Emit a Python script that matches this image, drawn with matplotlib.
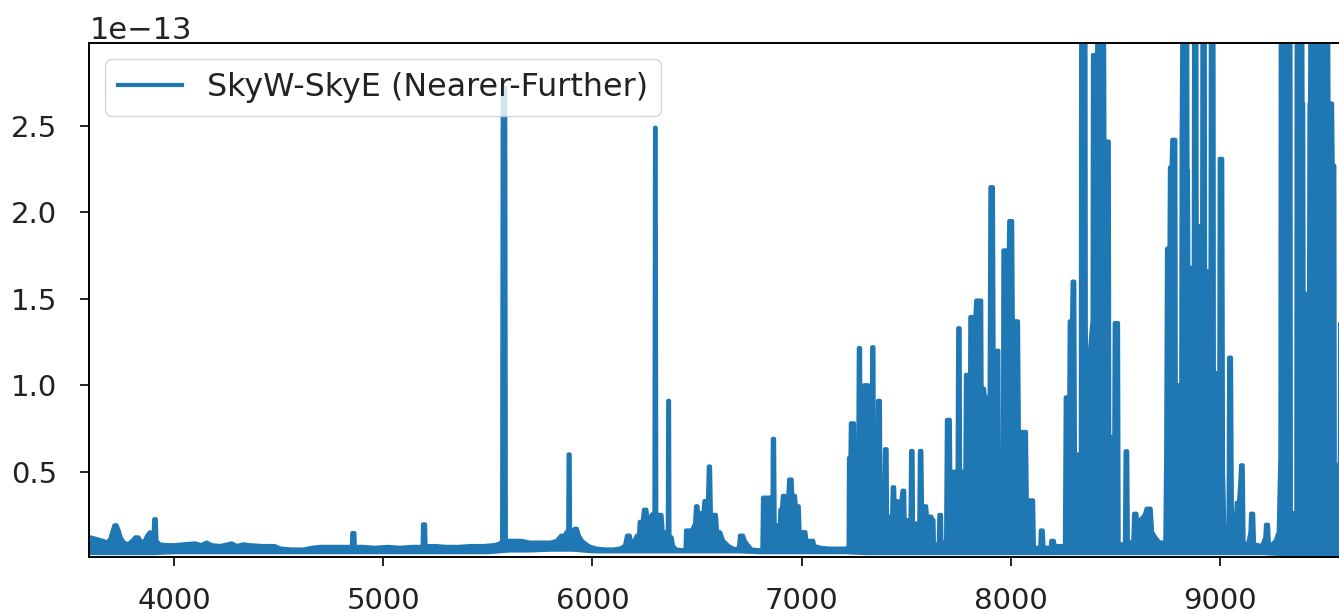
import numpy as np
import matplotlib
matplotlib.use("Agg")
import matplotlib.pyplot as plt
from matplotlib.ticker import MultipleLocator

SCALE = 1e-13
COLOR = "#1f77b4"

# Sky-difference spectrum, flux in units of 1e-13, wavelength in Angstrom.
blue_wave = [3595, 3600, 3630, 3660, 3680, 3695, 3705, 3715, 3725, 3735, 3745, 3760, 3780,
             3800, 3815, 3830, 3845, 3860, 3872, 3885, 3896, 3902, 3905, 3913, 3916, 3930,
             3960, 4000, 4050, 4100, 4130, 4156, 4180, 4220, 4276, 4300, 4331, 4360, 4420,
             4480, 4510, 4560, 4620, 4660, 4700, 4760, 4820, 4850, 4852, 4862, 4864, 4900,
             4960, 5020, 5080, 5140, 5188, 5190, 5200, 5202, 5250, 5300, 5360, 5420, 5480,
             5530, 5560, 5568, 5571, 5583, 5586]
blue_flux = [0.12, 0.12, 0.11, 0.10, 0.09, 0.11, 0.15, 0.19, 0.19, 0.16, 0.12, 0.09, 0.08,
             0.10, 0.12, 0.12, 0.09, 0.10, 0.13, 0.15, 0.12, 0.12, 0.225, 0.225, 0.10, 0.08,
             0.075, 0.075, 0.08, 0.085, 0.075, 0.09, 0.075, 0.07, 0.085, 0.07, 0.08, 0.075, 0.07,
             0.07, 0.055, 0.05, 0.05, 0.06, 0.065, 0.065, 0.065, 0.065, 0.145, 0.145, 0.065, 0.065,
             0.06, 0.065, 0.06, 0.065, 0.065, 0.195, 0.195, 0.07, 0.07, 0.065, 0.065, 0.07, 0.07,
             0.075, 0.085, 0.10, 2.72, 2.72, 0.10]

mid_wave = [5620, 5660, 5700, 5750, 5800, 5830, 5850, 5868, 5875, 5884, 5886, 5891, 5893,
            5905, 5915, 5925, 5935, 5950, 5970, 5990, 6020, 6060, 6100, 6130, 6155, 6165,
            6178, 6185, 6200, 6212, 6222, 6226, 6240, 6246, 6258, 6262, 6275, 6282, 6296,
            6299, 6302, 6305, 6330, 6336, 6345, 6360, 6362, 6366, 6368, 6378, 6385, 6400,
            6430, 6445, 6447, 6476, 6490, 6495, 6502, 6508, 6516, 6518, 6530, 6535, 6552,
            6556, 6562, 6566, 6590, 6596, 6610, 6625, 6650, 6680, 6700, 6705, 6720, 6728,
            6740, 6760, 6800, 6812, 6815, 6855, 6860, 6862, 6868, 6871, 6895, 6898, 6905,
            6910, 6936, 6940, 6952, 6955, 6968, 6972, 6986, 6990, 7018, 7022, 7055, 7060,
            7090, 7130, 7170, 7210, 7220]
mid_flux = [0.10, 0.10, 0.09, 0.09, 0.09, 0.10, 0.13, 0.13, 0.15, 0.15, 0.60, 0.60, 0.15,
            0.15, 0.17, 0.17, 0.13, 0.10, 0.08, 0.065, 0.055, 0.05, 0.05, 0.055, 0.07, 0.13,
            0.13, 0.09, 0.10, 0.13, 0.13, 0.21, 0.21, 0.28, 0.28, 0.22, 0.22, 0.25, 0.26,
            2.49, 2.49, 0.25, 0.25, 0.15, 0.15, 0.12, 0.91, 0.91, 0.12, 0.12, 0.07, 0.05,
            0.045, 0.05, 0.16, 0.16, 0.20, 0.30, 0.30, 0.20, 0.20, 0.26, 0.26, 0.33, 0.33,
            0.53, 0.53, 0.25, 0.25, 0.15, 0.15, 0.10, 0.07, 0.05, 0.06, 0.13, 0.13, 0.10,
            0.08, 0.05, 0.045, 0.05, 0.35, 0.35, 0.20, 0.69, 0.69, 0.19, 0.19, 0.28, 0.28,
            0.36, 0.36, 0.455, 0.455, 0.36, 0.36, 0.30, 0.30, 0.15, 0.15, 0.10, 0.10, 0.07,
            0.06, 0.055, 0.055, 0.055, 0.06]

# OH forest: peaks, dips between neighbouring lines, and the gaps in between bands
red_wave = [7224, 7226, 7233, 7235, 7250, 7252, 7270, 7273, 7279, 7281, 7294, 7297, 7318,
            7320, 7334, 7337, 7343, 7345, 7362, 7365, 7374, 7376, 7394, 7398, 7406, 7408,
            7432, 7435, 7442, 7445, 7450, 7458, 7468, 7482, 7490, 7492, 7520, 7523, 7530,
            7532, 7562, 7565, 7572, 7575, 7595, 7600, 7610, 7620, 7624, 7630, 7632, 7655,
            7658, 7666, 7668, 7690, 7694, 7708, 7710, 7745, 7748, 7755, 7757, 7782, 7785,
            7800, 7804, 7806, 7830, 7834, 7858, 7860, 7872, 7875, 7898, 7902, 7914, 7918,
            7930, 7934, 7940, 7942, 7962, 7964, 7990, 7992, 8006, 8009, 8034, 8038, 8072,
            8076, 8106, 8110, 8140, 8143, 8152, 8156, 8190, 8193, 8205, 8210, 8258, 8262,
            8279, 8281, 8292, 8295, 8303, 8306, 8334, 8336, 8356, 8358, 8360, 8362, 8388,
            8390, 8392, 8394, 8412, 8414, 8444, 8447, 8468, 8470, 8494, 8496, 8512, 8515,
            8545, 8548, 8556, 8559, 8585, 8589, 8600, 8604, 8612, 8618, 8640, 8648, 8668,
            8675, 8690, 8710, 8738, 8742, 8746, 8758, 8760, 8768, 8771, 8786, 8788, 8814,
            8816, 8822, 8842, 8844, 8846, 8848, 8874, 8876, 8886, 8888, 8914, 8916, 8926,
            8928, 8954, 8956, 8968, 8970, 8996, 8998, 9010, 9014, 9022, 9040, 9043, 9052,
            9056, 9068, 9076, 9079, 9090, 9097, 9100, 9108, 9112, 9122, 9130, 9145, 9148,
            9158, 9162, 9200, 9216, 9219, 9229, 9233, 9250, 9265, 9280, 9288, 9290, 9336,
            9338, 9364, 9366, 9392, 9394, 9397, 9399, 9425, 9427, 9430, 9432, 9515, 9518,
            9535, 9538, 9546, 9548, 9572, 9574, 9580, 9584, 9600, 9610, 9700]
red_flux = [0.06, 0.58, 0.58, 0.78, 0.78, 0.50, 0.50, 1.215, 1.215, 0.53, 0.53, 1.00, 1.00,
            0.60, 0.60, 1.22, 1.22, 0.45, 0.45, 0.91, 0.91, 0.33, 0.33, 0.63, 0.63, 0.24,
            0.24, 0.41, 0.41, 0.25, 0.33, 0.33, 0.25, 0.39, 0.39, 0.22, 0.22, 0.62, 0.62,
            0.20, 0.20, 0.62, 0.62, 0.30, 0.30, 0.22, 0.24, 0.24, 0.22, 0.22, 0.08, 0.08,
            0.25, 0.25, 0.09, 0.09, 0.80, 0.80, 0.50, 0.50, 1.33, 1.33, 0.50, 0.50, 1.06,
            1.06, 0.80, 1.395, 1.395, 1.49, 1.49, 0.98, 0.98, 0.93, 0.93, 2.146, 2.146, 0.95,
            0.95, 1.20, 1.20, 0.60, 0.60, 1.78, 1.78, 1.95, 1.95, 1.37, 1.37, 0.73, 0.73,
            0.334, 0.334, 0.06, 0.06, 0.16, 0.16, 0.06, 0.06, 0.10, 0.10, 0.07, 0.07, 0.93,
            0.93, 1.37, 1.37, 1.60, 1.60, 0.60, 0.60, 3.60, 3.60, 1.35, 0.96, 0.96, 1.35,
            1.35, 2.91, 2.91, 2.91, 3.60, 3.60, 2.41, 2.41, 0.70, 0.70, 1.36, 1.36, 0.08,
            0.08, 0.618, 0.618, 0.08, 0.10, 0.257, 0.257, 0.20, 0.22, 0.22, 0.25, 0.286, 0.286,
            0.15, 0.12, 0.09, 0.09, 0.60, 1.79, 1.79, 2.26, 2.26, 2.42, 2.42, 1.00, 1.00,
            2.42, 3.60, 3.60, 2.24, 2.24, 1.68, 1.68, 3.60, 3.60, 1.92, 1.92, 3.60, 3.60,
            1.66, 1.66, 3.60, 3.60, 1.07, 1.07, 2.31, 2.31, 0.50, 0.08, 0.08, 1.16, 1.16,
            0.30, 0.08, 0.08, 0.32, 0.32, 0.45, 0.537, 0.537, 0.10, 0.06, 0.06, 0.15, 0.257,
            0.257, 0.08, 0.07, 0.12, 0.193, 0.193, 0.08, 0.08, 0.10, 0.15, 0.60, 3.60, 3.60,
            0.26, 0.26, 3.60, 3.60, 2.63, 2.63, 1.53, 1.53, 2.63, 2.63, 3.60, 3.60, 2.63,
            2.63, 2.27, 2.27, 0.54, 0.54, 2.27, 2.27, 2.63, 2.63, 3.60, 3.60]

# Level below which every pixel of the difference spectrum is covered
floor_level = 0.04

# Pixel-to-pixel noise envelope of the continuum
noise_wave = [3595, 3700, 3800, 3900, 4000, 4100, 4200, 4300, 4400, 4500, 4600, 4700, 4800,
              4900, 5000, 5100, 5200, 5300, 5400, 5500, 5600, 5700, 5800, 5900, 6000, 6100,
              6200, 6300, 6400, 6500, 6600, 6700, 6800, 6900, 7000, 7100, 7200, 7300, 7400,
              7500, 7600, 7700, 7800, 7900, 8000, 8100, 8200, 8300, 8400, 8500, 8600, 8700,
              8800, 8900, 9000, 9100, 9200, 9280, 9300, 9400, 9500, 9600, 9700]
noise_lo = [0.02, 0.02, 0.02, 0.02, 0.025, 0.025, 0.025, 0.025, 0.025, 0.025, 0.025, 0.025,
            0.025, 0.025, 0.025, 0.025, 0.025, 0.025, 0.025, 0.025, 0.035, 0.035, 0.04, 0.04,
            0.03, 0.03, 0.03, 0.03, 0.03, 0.03, 0.03, 0.03, 0.025, 0.025, 0.025, 0.025, 0.025,
            0.02, 0.02, 0.02, 0.02, 0.02, 0.02, 0.02, 0.02, 0.02, 0.02, 0.02, 0.02, 0.02,
            0.02, 0.02, 0.02, 0.02, 0.02, 0.02, 0.02, 0.015, 0.0, 0.0, 0.0, 0.0, 0.0]
noise_hi = [0.10, 0.08, 0.08, 0.07, 0.065, 0.065, 0.065, 0.065, 0.065, 0.05, 0.045, 0.055,
            0.055, 0.055, 0.055, 0.055, 0.055, 0.055, 0.055, 0.055, 0.08, 0.08, 0.08, 0.08,
            0.045, 0.045, 0.06, 0.06, 0.05, 0.05, 0.05, 0.05, 0.045, 0.05, 0.05, 0.045, 0.045,
            0.05, 0.05, 0.05, 0.05, 0.05, 0.05, 0.05, 0.05, 0.05, 0.05, 0.05, 0.05, 0.05,
            0.05, 0.05, 0.05, 0.05, 0.05, 0.05, 0.05, 0.05, 0.05, 0.05, 0.05, 0.05, 0.05]

wave = np.array(blue_wave + mid_wave + red_wave, dtype=float)
flux = np.array(blue_flux + mid_flux + red_flux) * SCALE

fig = plt.figure(figsize=(13.39, 6.13), dpi=100)
ax = fig.add_axes([0.0667, 0.0918, 0.9539, 0.8375])

ax.fill_between(noise_wave, np.array(noise_lo) * SCALE, np.array(noise_hi) * SCALE,
                color=COLOR, linewidth=0)
ax.fill_between(wave, floor_level * SCALE, flux, color=COLOR, linewidth=0)
ax.plot(wave, flux, color=COLOR, lw=3.0, label="SkyW-SkyE (Nearer-Further)")

ax.set_xlim(3595, 9700)
ax.set_ylim(0.008 * SCALE, 2.978 * SCALE)
ax.xaxis.set_major_locator(MultipleLocator(1000))
ax.yaxis.set_major_locator(MultipleLocator(0.5 * SCALE))

for side in ("top", "right", "bottom", "left"):
    ax.spines[side].set_linewidth(1.4)
ax.tick_params(axis="both", which="major", direction="out", length=6.2, width=1.4,
               labelsize=21, colors="#222222")
ax.tick_params(axis="x", pad=15.5)
ax.tick_params(axis="y", pad=17)
ax.yaxis.get_offset_text().set_fontsize(22)
ax.yaxis.get_offset_text().set_color("#222222")

leg = ax.legend(loc="upper left", fontsize=22.9)
for t in leg.get_texts():
    t.set_color("#222222")

fig.savefig("out.png", dpi=100)
